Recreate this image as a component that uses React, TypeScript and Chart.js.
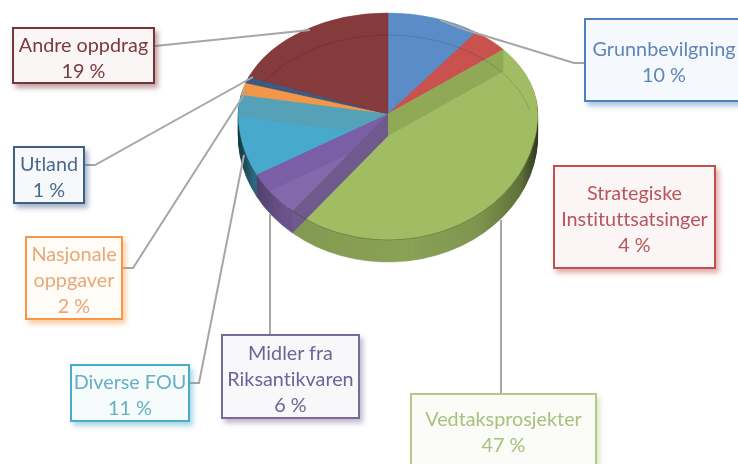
import React, { useEffect, useRef } from "react";
import { Chart, registerables } from "chart.js";

Chart.register(...registerables);

const W = 738;
const H = 464;

const categories = ["Grunnbevilgning", "Strategiske Instituttsatsinger", "Vedtaksprosjekter", "Midler fra Riksantikvaren", "Diverse FOU", "Nasjonale oppgaver", "Utland", "Andre oppdrag"];
const shares = [10, 4, 47, 6, 11, 2, 1, 19];
const faceColors = ["#5a8cc8", "#c9524f", "#a1bd64", "#8468ac", "#47a9cc", "#f2964a", "#3d5a80", "#853a3c"];

const labelLines = [["Grunnbevilgning"], ["Strategiske", "Instituttsatsinger"], ["Vedtaksprosjekter"], ["Midler fra", "Riksantikvaren"], ["Diverse FOU"], ["Nasjonale", "oppgaver"], ["Utland"], ["Andre oppdrag"]];
const borderColors = ["#4f81bd", "#c0504d", "#b3c98a", "#7a6a9c", "#4bacc6", "#f79646", "#3f5f85", "#773539"];
const textColors = ["#5f86b8", "#b8555a", "#a9c07e", "#6f6398", "#68aec4", "#e8a878", "#4a6a8e", "#7a3a40"];
const tints = ["#f5f9fd", "#fbf6f5", "#fbfcf8", "#f8f7fa", "#f6fbfc", "#fffbf7", "#f6f8fb", "#fbf6f6"];
const boxLeft = [584, 553, 410, 221, 70, 25, 13, 12];
const boxTop = [18, 165, 393, 334, 364, 236, 146, 27];
const boxWidth = [160, 163, 187, 139, 120, 98, 72, 143];
const boxHeight = [84, 104, 74, 85, 58, 84, 58, 57];

const leaderLines: number[][][] = [
  [[584, 63], [574, 63], [466, 30], [440, 20]],
  [],
  [[501, 393], [501, 220]],
  [[270, 334], [270, 214]],
  [[190, 383], [199, 383], [244, 155]],
  [[123, 268], [133, 268], [247, 90]],
  [[85, 165], [95, 165], [253, 77]],
  [[155, 46], [310, 30]],
];

const ANCHOR_Y = 114;
const TOP_RY = 101;
const BOTTOM_RY = 126;
const DEPTH = 22;

const piePlugin = {
  id: "tiltedPie",
  beforeDatasetsDraw(chart: any) {
    const ctx: CanvasRenderingContext2D = chart.ctx;
    const arcs: any[] = chart.getDatasetMeta(0).data;
    const cx = arcs[0].x;
    const cy = arcs[0].y;
    const r = arcs[0].outerRadius;

    const face = (dy: number) => {
      [
        [0, ANCHOR_Y + dy, TOP_RY],
        [ANCHOR_Y + dy, H, BOTTOM_RY],
      ].forEach(([y0, y1, ry]) => {
        ctx.save();
        ctx.beginPath();
        ctx.rect(0, y0, W, y1 - y0);
        ctx.clip();
        ctx.translate(cx, ANCHOR_Y + dy);
        ctx.scale(1, ry / r);
        ctx.translate(-cx, -cy);
        arcs.forEach((a) => a.draw(ctx));
        ctx.restore();
      });
    };
    const rim = (angle: number, dy: number) => {
      const s = Math.sin(angle);
      return [cx + r * Math.cos(angle), ANCHOR_Y + dy + (s < 0 ? TOP_RY : BOTTOM_RY) * s];
    };
    const band = (angle: number, fill: string, clipToFace: boolean) => {
      const p = rim(angle, 0);
      const q = rim(angle, DEPTH);
      ctx.save();
      if (clipToFace) {
        ctx.beginPath();
        ctx.ellipse(cx, ANCHOR_Y, r, BOTTOM_RY, 0, 0, Math.PI);
        ctx.ellipse(cx, ANCHOR_Y, r, TOP_RY, 0, Math.PI, 2 * Math.PI);
        ctx.clip();
      }
      ctx.beginPath();
      ctx.moveTo(cx, ANCHOR_Y);
      ctx.lineTo(p[0], p[1]);
      ctx.lineTo(q[0], q[1]);
      ctx.lineTo(cx, ANCHOR_Y + DEPTH);
      ctx.closePath();
      ctx.fillStyle = fill;
      ctx.fill();
      ctx.restore();
    };

    // side wall
    ctx.save();
    ctx.filter = "brightness(0.86)";
    for (let dy = DEPTH; dy >= 1; dy--) face(dy);
    ctx.restore();
    ctx.save();
    ctx.globalCompositeOperation = "source-atop";
    const g = ctx.createLinearGradient(cx - r, 0, cx + r, 0);
    g.addColorStop(0, "rgba(0,0,0,0.62)");
    g.addColorStop(0.05, "rgba(0,0,0,0.3)");
    g.addColorStop(0.15, "rgba(0,0,0,0.06)");
    g.addColorStop(0.55, "rgba(0,0,0,0)");
    g.addColorStop(0.8, "rgba(0,0,0,0.08)");
    g.addColorStop(0.94, "rgba(0,0,0,0.3)");
    g.addColorStop(1, "rgba(0,0,0,0.65)");
    ctx.fillStyle = g;
    ctx.fillRect(cx - r - 2, 0, 2 * r + 4, H);
    ctx.restore();

    // top face
    face(0);

    // translucent inner walls seen through the top
    band(arcs[2].startAngle, "#8fa956", true);
    band(arcs[4].endAngle, "rgba(88,160,180,0.85)", true);
    band(arcs[3].endAngle, "#7a5ea6", true);
    band(arcs[2].endAngle, "#6e5a8c", false);

    // rear inner edge and front rim
    ctx.lineWidth = 1;
    ctx.strokeStyle = "rgba(40,20,20,0.16)";
    ctx.beginPath();
    ctx.ellipse(cx, ANCHOR_Y + DEPTH, r - 3, TOP_RY, 0, Math.PI + 0.55, 2 * Math.PI - 0.25);
    ctx.stroke();
    ctx.strokeStyle = "rgba(50,60,20,0.38)";
    ctx.beginPath();
    ctx.ellipse(cx, ANCHOR_Y, r, BOTTOM_RY, 0, 0.2, 2.3);
    ctx.stroke();

    // leader lines
    ctx.strokeStyle = "#a6a6a6";
    ctx.lineWidth = 2;
    leaderLines.forEach((pts) => {
      if (!pts.length) return;
      ctx.beginPath();
      pts.forEach((p, i) => (i ? ctx.lineTo(p[0], p[1]) : ctx.moveTo(p[0], p[1])));
      ctx.stroke();
    });
    return false;
  },
};

export default function App() {
  const ref = useRef<HTMLCanvasElement>(null);
  useEffect(() => {
    document.body.style.margin = "0";
    const chart = new Chart(ref.current!, {
      type: "pie",
      data: {
        labels: categories,
        datasets: [{ data: shares, backgroundColor: faceColors, borderColor: faceColors, borderWidth: 0.6 }],
      },
      options: {
        responsive: false,
        animation: false,
        layout: { padding: { left: 238, right: 200, top: 82, bottom: 82 } },
        plugins: { legend: { display: false }, tooltip: { enabled: false } },
      },
      plugins: [piePlugin],
    } as any);
    return () => chart.destroy();
  }, []);

  return (
    <div style={{ position: "relative", width: W, height: H, overflow: "hidden", background: "#fff" }}>
      <canvas ref={ref} width={W} height={H} style={{ position: "absolute", left: 0, top: 0 }} />
      {categories.map((c, i) => (
        <div
          key={c}
          style={{
            position: "absolute",
            boxSizing: "border-box",
            left: boxLeft[i],
            top: boxTop[i],
            width: boxWidth[i],
            height: boxHeight[i],
            border: `2px solid ${borderColors[i]}`,
            background: tints[i],
            boxShadow: `3px 4px 5px ${borderColors[i]}77`,
            color: textColors[i],
            fontFamily: "Lato, sans-serif",
            fontSize: 19.8,
            fontVariantLigatures: "none",
            lineHeight: "26px",
            paddingTop: 2,
            textAlign: "center",
            display: "flex",
            flexDirection: "column",
            justifyContent: "center",
            whiteSpace: "nowrap",
          }}
        >
          {labelLines[i].map((l) => (
            <div key={l}>{l}</div>
          ))}
          <div>{shares[i]} %</div>
        </div>
      ))}
    </div>
  );
}
